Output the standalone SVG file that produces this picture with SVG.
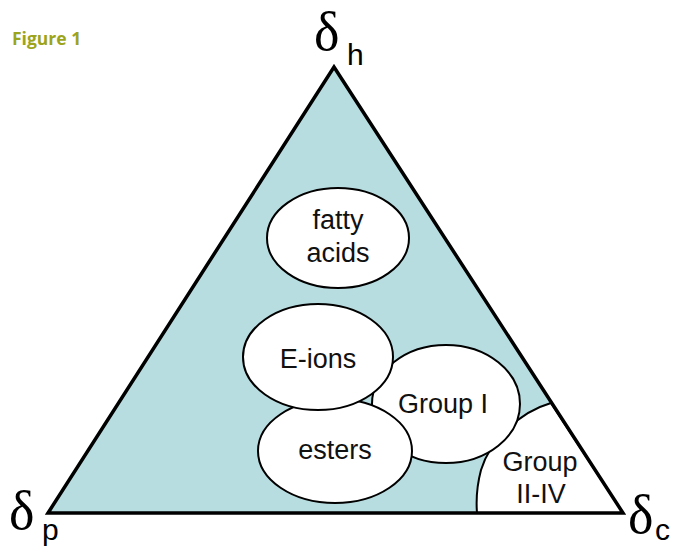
<svg xmlns="http://www.w3.org/2000/svg" width="673" height="548" viewBox="0 0 673 548">
<style>
.node{fill:#fff;stroke:#000;stroke-width:2}
.lbl{font-family:"Liberation Sans",Arial,sans-serif;font-size:27px;fill:#111;text-anchor:middle}
.dl{font-family:"Liberation Serif","Times New Roman",serif;font-size:54px;fill:#000}
.sub{font-family:"Liberation Sans",Arial,sans-serif;font-size:30px;fill:#000}
</style>
<rect width="673" height="548" fill="#fff"/>
<text x="12" y="45" font-family="'Open Sans','Liberation Sans',sans-serif" font-weight="bold" font-size="17.5" fill="#9ca41c">Figure 1</text>
<polygon points="334,67 623,513 48,513" fill="#b8dde1"/>
<g id="group2-4">
<path class="node" d="M551,403 C520,412 490,440 481,470 C477,485 476,500 477,513 L623,513 Z"/>
<text class="lbl" x="540" y="471">Group</text>
<text class="lbl" x="541" y="503">II-IV</text>
</g>
<g id="fatty-acids">
<ellipse class="node" cx="338" cy="238" rx="71" ry="50"/>
<text class="lbl" x="338" y="229">fatty</text>
<text class="lbl" x="338" y="262">acids</text>
</g>
<g id="group1">
<ellipse class="node" cx="446" cy="404" rx="74" ry="59"/>
<text class="lbl" x="443" y="413">Group I</text>
</g>
<g id="esters">
<ellipse class="node" cx="335" cy="451" rx="77" ry="52"/>
<text class="lbl" x="335" y="459">esters</text>
</g>
<g id="e-ions">
<ellipse class="node" cx="318" cy="357" rx="75" ry="53"/>
<text class="lbl" x="318" y="368">E-ions</text>
</g>
<polygon points="334,67 623,513 48,513" fill="none" stroke="#000" stroke-width="3.5" stroke-linejoin="miter"/>
<g id="axis-h"><text class="dl" x="314" y="50">δ</text><text class="sub" x="347" y="65">h</text></g>
<g id="axis-p"><text class="dl" x="9" y="529">δ</text><text class="sub" x="42" y="540">p</text></g>
<g id="axis-c"><text class="dl" x="628" y="533">δ</text><text class="sub" x="655" y="540">c</text></g>
</svg>
